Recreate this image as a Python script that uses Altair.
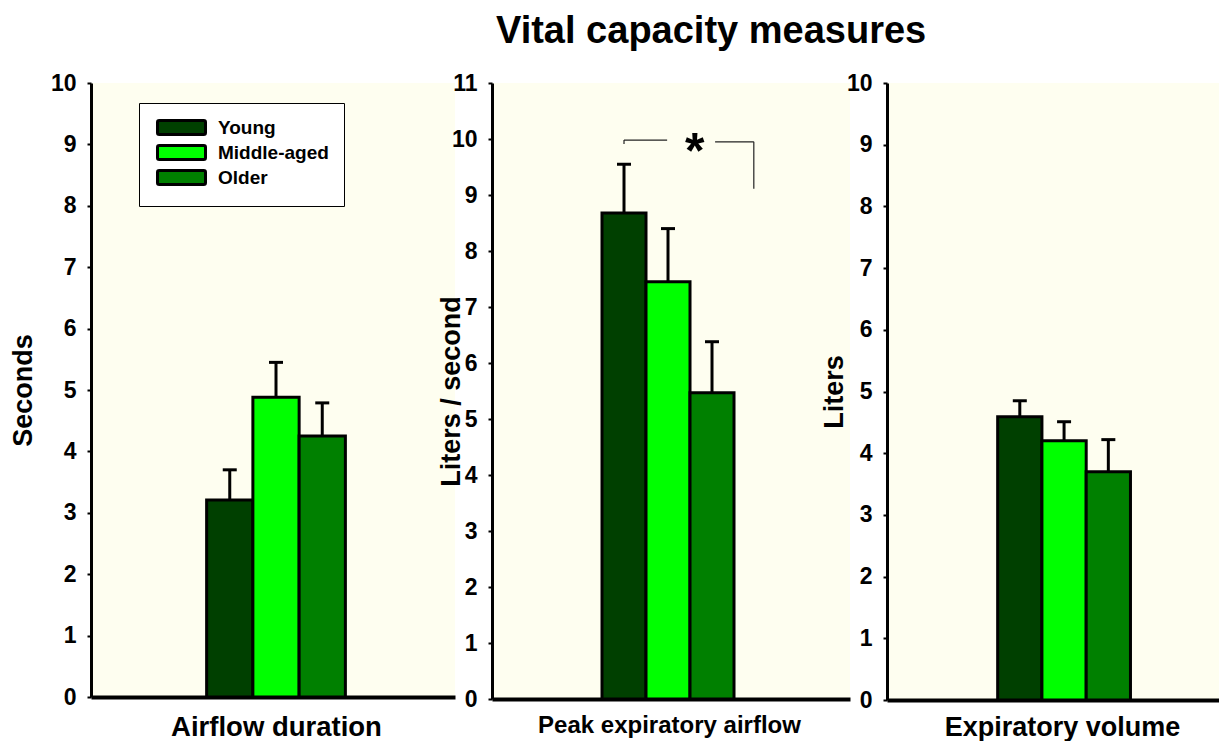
import altair as alt
import pandas as pd

groups = ["Young", "Middle-aged", "Older"]
colors = ["#004000", "#00FF00", "#008000"]
positions = [-1, 0, 1]

airflow_mean = [3.21, 4.88, 4.25]
airflow_err = [0.49, 0.57, 0.54]
peak_mean = [8.68, 7.45, 5.47]
peak_err = [0.87, 0.95, 0.91]
volume_mean = [4.59, 4.20, 3.70]
volume_err = [0.26, 0.31, 0.52]

bracket_x = [-1.0, -1.0, 1.07, 1.95]
bracket_x2 = [-1.0, -0.02, 1.95, 1.95]
bracket_y = [9.91, 9.98, 9.95, 9.95]
bracket_y2 = [9.98, 9.98, 9.95, 9.11]
star_x = [0.61]
star_y = [9.49]
star_text = ["*"]

FONT = "Liberation Sans"
BG = "#FEFEF0"

sym_path = ("M-0.7,-1.17 Q-1,-1.17 -1,-0.87 L-1,0.87 Q-1,1.17 -0.7,1.17 "
            "L6.7,1.17 Q7,1.17 7,0.87 L7,-0.87 Q7,-1.17 6.7,-1.17 Z")


def panel(means, errs, ymax, ytitle, ytitle_x, xtitle, xtitle_size,
          xtitle_x, xtitle_y, width, height, xdomain, legend):
    df = pd.DataFrame({
        "group": groups,
        "pos": positions,
        "mean": means,
        "top": [m + e for m, e in zip(means, errs)],
    })
    df["left"] = df["pos"] - 0.5
    df["right"] = df["pos"] + 0.5
    df["zero"] = 0.0
    xscale = alt.Scale(domain=xdomain, nice=False, zero=False)
    yscale = alt.Scale(domain=[0, ymax], nice=False)
    x_axis = alt.Axis(title=xtitle, labels=False, ticks=False, grid=False,
                      domainWidth=4, domainColor="black",
                      titleFontSize=xtitle_size, titleFont=FONT,
                      titleFontWeight="bold", titleColor="black",
                      titleX=xtitle_x, titleY=xtitle_y,
                      titleBaseline="alphabetic", titleAlign="center")
    y_axis = alt.Axis(title=ytitle, values=list(range(ymax + 1)), format="d",
                      grid=False, domainWidth=3, domainColor="black",
                      tickColor="black", tickWidth=2, tickSize=4,
                      labelPadding=11, labelFont=FONT, labelFontSize=23,
                      labelFontWeight="bold", labelColor="black",
                      titleFont=FONT, titleFontSize=27, titleFontWeight="bold",
                      titleColor="black", titleX=ytitle_x,
                      titleBaseline="alphabetic")
    base = alt.Chart(df)
    bars = base.mark_bar(stroke="black", strokeWidth=3, opacity=1).encode(
        x=alt.X("left:Q", scale=xscale, axis=x_axis),
        x2="right:Q",
        y=alt.Y("mean:Q", scale=yscale, axis=y_axis),
        y2="zero:Q",
        color=alt.Color("group:N", scale=alt.Scale(domain=groups, range=colors),
                        legend=legend),
    )
    rules = base.mark_rule(color="black", strokeWidth=3).encode(
        x="pos:Q", y="mean:Q", y2="top:Q")
    caps = base.mark_tick(orient="horizontal", size=14, thickness=3,
                          color="black", opacity=1).encode(x="pos:Q", y="top:Q")
    return alt.layer(bars, rules, caps).properties(
        width=width, height=height,
        view=alt.ViewBackground(fill=BG, stroke=None))


legend = alt.Legend(title=None, orient="none", legendX=48, legendY=20,
                    fillColor="white", strokeColor="black", padding=15,
                    labelFont=FONT, labelFontSize=19, labelFontWeight="bold",
                    labelColor="black", symbolType=sym_path, symbolSize=144,
                    symbolStrokeColor="black", symbolStrokeWidth=3,
                    symbolOpacity=1, labelOffset=45, rowPadding=-2)

p1 = panel(airflow_mean, airflow_err, 10, "Seconds", -60, "Airflow duration",
           27.5, 185, 38, 364, 614, [-4, 3.87], legend)

p2_bars = panel(peak_mean, peak_err, 11, "Liters / second", -33,
                "Peak expiratory airflow", 24, 177, 33, 358, 616,
                [-4, 4.136], None)
bdf = pd.DataFrame({"x": bracket_x, "x2": bracket_x2,
                    "y": bracket_y, "y2": bracket_y2})
sdf = pd.DataFrame({"x": star_x, "y": star_y, "t": star_text})
bracket = alt.Chart(bdf).mark_rule(color="#222222", strokeWidth=1.2).encode(
    x="x:Q", x2="x2:Q", y="y:Q", y2="y2:Q")
star = alt.Chart(sdf).mark_text(font=FONT, fontSize=50, fontWeight="bold",
                                color="black", baseline="alphabetic").encode(
    x="x:Q", y="y:Q", text="t:N")
p2 = alt.layer(p2_bars, bracket, star)

p3 = panel(volume_mean, volume_err, 10, "Liters", -45, "Expiratory volume",
           27, 175, 35, 332, 617, [-4, 3.5], None)

chart = alt.hconcat(
    p1, p2, p3, spacing=37, bounds="flush",
    title=alt.TitleParams("Vital capacity measures", font=FONT, fontSize=38,
                          fontWeight="bold", color="black", anchor="start",
                          dx=487, offset=21),
).properties(
    padding={"left": 1, "top": 5, "right": 0, "bottom": 0},
    background="white",
).configure_view(fill=BG, stroke=None).configure(font=FONT)

chart.save("out.html", embed_options={"renderer": "svg", "actions": False})
